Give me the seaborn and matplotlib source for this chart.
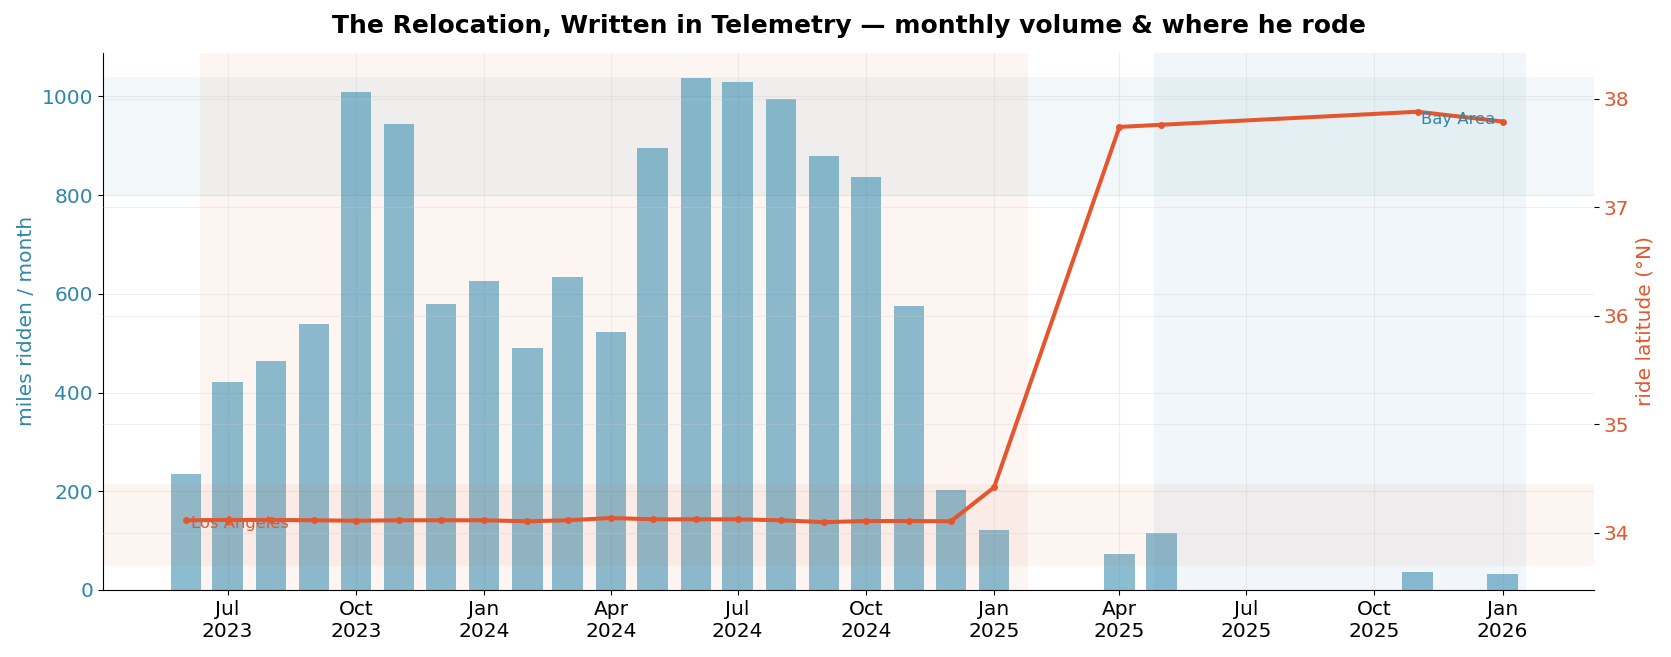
#!/usr/bin/env python3
"""
Relocation chart: monthly riding volume (bars) and mean ride latitude (line)
"""

import pandas as pd
import matplotlib.pyplot as plt
import matplotlib.dates as mdates
import seaborn as sns

# --- data ---
months = ['2023-06', '2023-07', '2023-08', '2023-09', '2023-10', '2023-11', '2023-12',
          '2024-01', '2024-02', '2024-03', '2024-04', '2024-05', '2024-06', '2024-07',
          '2024-08', '2024-09', '2024-10', '2024-11', '2024-12', '2025-01',
          '2025-04', '2025-05', '2025-11', '2026-01']
miles = [235, 422, 463, 538, 1009, 944, 580,
         627, 491, 635, 522, 895, 1037, 1029,
         994, 879, 836, 576, 203, 122,
         73, 116, 36, 32]
latitude = [34.117, 34.12, 34.12, 34.117, 34.113, 34.117, 34.117,
            34.117, 34.108, 34.117, 34.138, 34.126, 34.126, 34.126,
            34.117, 34.10, 34.11, 34.11, 34.108, 34.42,
            37.74, 37.76, 37.88, 37.79]

# periods and latitude bands
la_period = ('2023-06-11', '2025-01-25')
bay_period = ('2025-04-26', '2026-01-18')
la_band = (33.7, 34.45)
bay_band = (37.1, 38.2)

BLUE = '#2E86AB'
RED = '#E4572E'

sns.set_style("ticks")
plt.rcParams['font.family'] = ['DejaVu Sans']
plt.rcParams.update({
    'text.color': 'black',
    'axes.edgecolor': 'black',
    'axes.labelcolor': 'black',
    'xtick.color': 'black',
    'ytick.color': 'black',
})

df = pd.DataFrame({'month': pd.to_datetime(months), 'miles': miles, 'lat': latitude})

fig, ax = plt.subplots(figsize=(16.71, 6.57), dpi=100)
fig.subplots_adjust(left=0.0615, right=0.954, top=0.92, bottom=0.102)

# shaded periods
ax.axvspan(pd.Timestamp(la_period[0]), pd.Timestamp(la_period[1]),
           color=RED, alpha=0.06, lw=0, zorder=0)
ax.axvspan(pd.Timestamp(bay_period[0]), pd.Timestamp(bay_period[1]),
           color=BLUE, alpha=0.07, lw=0, zorder=0)

# monthly volume bars
ax.bar(df['month'], df['miles'], width=22, color=BLUE, alpha=0.55, lw=0, zorder=2)
ax.set_ylabel('miles ridden / month', color=BLUE, fontsize=14.5)
ax.tick_params(axis='y', labelcolor=BLUE, labelsize=14.5)
ax.tick_params(axis='x', labelsize=14.5)
ax.grid(True, alpha=0.3)
ax.set_axisbelow(True)
sns.despine(ax=ax)

# latitude line on twin axis
ax2 = ax.twinx()
ax2.axhspan(*la_band, color=RED, alpha=0.06, lw=0, zorder=0)
ax2.axhspan(*bay_band, color=BLUE, alpha=0.06, lw=0, zorder=0)
sns.lineplot(data=df, x='month', y='lat', ax=ax2, color=RED, lw=2.9,
             marker='o', markersize=5, markeredgecolor=RED, markeredgewidth=0)
ax2.set_ylabel('ride latitude (°N)', color=RED, fontsize=14.5)
ax2.set_xlabel('')
ax2.tick_params(axis='y', labelcolor=RED, labelsize=14.5)
ax2.grid(True, axis='y', alpha=0.3)
for s in ax2.spines.values():
    s.set_visible(False)

ax2.annotate('Los Angeles', (df['month'].iloc[0], df['lat'].iloc[0]),
             xytext=(4, -2.5), textcoords='offset points',
             ha='left', va='center', color=RED, fontsize=11.8)
ax2.annotate('Bay Area', (df['month'].iloc[-1], df['lat'].iloc[-1]),
             xytext=(-5, 1.5), textcoords='offset points',
             ha='right', va='center', color=BLUE, fontsize=11.8)

ax.xaxis.set_major_locator(mdates.MonthLocator(bymonth=[1, 4, 7, 10]))
ax.xaxis.set_major_formatter(mdates.DateFormatter('%b\n%Y'))

fig.suptitle('The Relocation, Written in Telemetry — monthly volume & where he rode',
             fontsize=18, fontweight='bold', x=0.508, y=0.978)

fig.savefig('out.png', dpi=100, facecolor='white')
